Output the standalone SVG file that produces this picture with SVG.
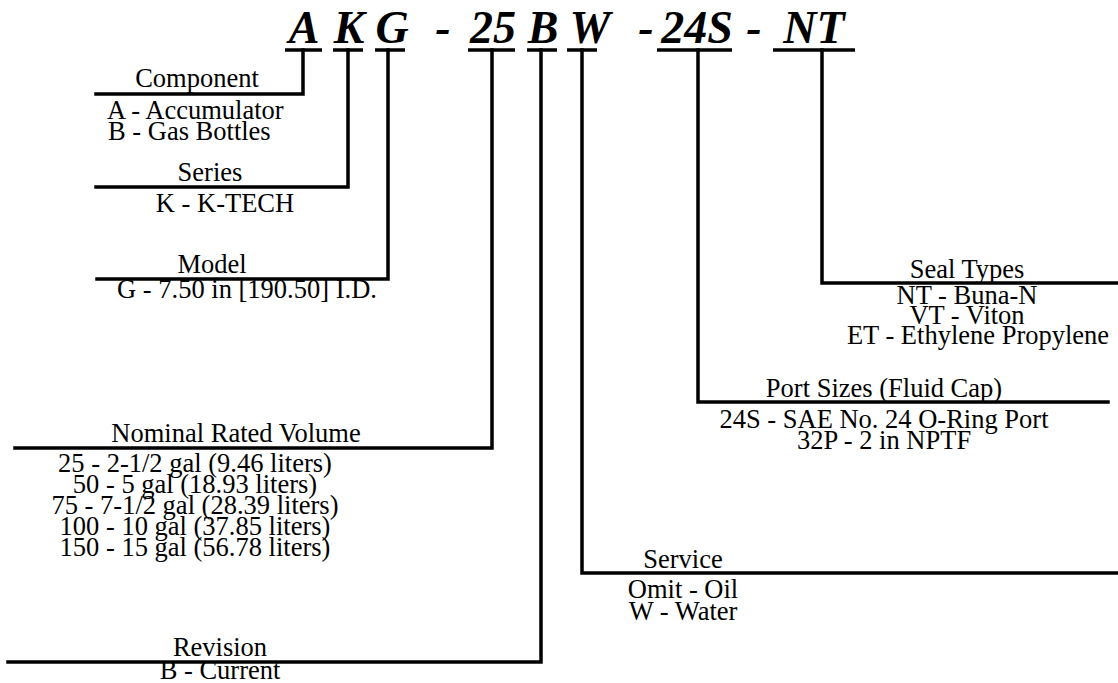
<svg xmlns="http://www.w3.org/2000/svg" width="1118" height="683" viewBox="0 0 1118 683">
<style>
.t{font-family:"Liberation Serif","Times New Roman",serif;font-size:26.5px;fill:#000}
.c{text-anchor:middle}
.h{font-family:"Liberation Serif","Times New Roman",serif;font-size:46px;font-weight:bold;font-style:italic;fill:#000;text-anchor:middle}
.ln{fill:none;stroke:#000;stroke-width:3.5;stroke-linejoin:miter;stroke-linecap:square}
.ul{stroke:#000;stroke-width:3.5}
</style>
<rect width="1118" height="683" fill="#fff"/>
<g id="code">
<text class="h" x="304" y="43">A</text>
<text class="h" x="349" y="43">K</text>
<text class="h" x="392" y="43">G</text>
<text class="h" x="443" y="43">-</text>
<text class="h" x="493" y="43">25</text>
<text class="h" x="543" y="43">B</text>
<text class="h" x="590" y="43">W</text>
<text class="h" x="646" y="43">-</text>
<text class="h" x="697" y="43">24S</text>
<text class="h" x="754" y="43">-</text>
<text class="h" x="814" y="43">NT</text>
<line class="ul" x1="285" y1="50" x2="322" y2="50"/>
<line class="ul" x1="333" y1="50" x2="363" y2="50"/>
<line class="ul" x1="375" y1="50" x2="405" y2="50"/>
<line class="ul" x1="468" y1="50" x2="515" y2="50"/>
<line class="ul" x1="527" y1="50" x2="557" y2="50"/>
<line class="ul" x1="567" y1="50" x2="597" y2="50"/>
<line class="ul" x1="657" y1="50" x2="732" y2="50"/>
<line class="ul" x1="773" y1="50" x2="855" y2="50"/>
</g>
<g id="connectors">
<polyline class="ln" points="303,50 303,94 96,94"/>
<polyline class="ln" points="348,50 348,187 96,187"/>
<polyline class="ln" points="388,50 388,279 97,279"/>
<polyline class="ln" points="492,50 492,448 15,448"/>
<polyline class="ln" points="541,50 541,662 8,662"/>
<polyline class="ln" points="582,50 582,573 1118,573"/>
<polyline class="ln" points="698,50 698,402 1108,402"/>
<polyline class="ln" points="822,50 822,283 1118,283"/>
</g>
<g id="component">
<text class="t c" x="197" y="87">Component</text>
<text class="t" x="107" y="119">A - Accumulator</text>
<text class="t" x="108" y="140">B - Gas Bottles</text>
</g>
<g id="series">
<text class="t c" x="210" y="181">Series</text>
<text class="t c" x="225" y="212">K - K-TECH</text>
</g>
<g id="model">
<text class="t c" x="212" y="273">Model</text>
<text class="t c" x="247" y="298">G - 7.50 in [190.50] I.D.</text>
</g>
<g id="volume">
<text class="t c" x="236" y="442">Nominal Rated Volume</text>
<text class="t c" x="195" y="472">25 - 2-1/2 gal (9.46 liters)</text>
<text class="t c" x="195" y="493">50 - 5 gal (18.93 liters)</text>
<text class="t c" x="195" y="514">75 - 7-1/2 gal (28.39 liters)</text>
<text class="t c" x="195" y="535">100 - 10 gal (37.85 liters)</text>
<text class="t c" x="195" y="556">150 - 15 gal (56.78 liters)</text>
</g>
<g id="revision">
<text class="t c" x="220" y="656">Revision</text>
<text class="t c" x="220" y="679">B - Current</text>
</g>
<g id="service">
<text class="t c" x="683" y="568">Service</text>
<text class="t c" x="683" y="598">Omit - Oil</text>
<text class="t c" x="683" y="620">W - Water</text>
</g>
<g id="port">
<text class="t c" x="884" y="397">Port Sizes (Fluid Cap)</text>
<text class="t c" x="884" y="428">24S - SAE No. 24 O-Ring Port</text>
<text class="t c" x="884" y="449">32P - 2 in NPTF</text>
</g>
<g id="seal">
<text class="t c" x="967" y="278">Seal Types</text>
<text class="t c" x="967" y="304">NT - Buna-N</text>
<text class="t c" x="967" y="324">VT - Viton</text>
<text class="t c" x="978" y="344">ET - Ethylene Propylene</text>
</g>
</svg>
